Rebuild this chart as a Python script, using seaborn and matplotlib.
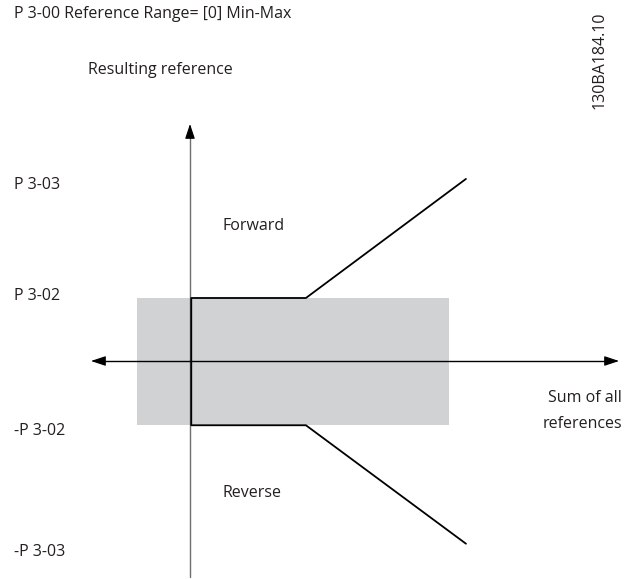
import matplotlib
matplotlib.use("Agg")
import matplotlib.pyplot as plt
import seaborn as sns
import pandas as pd

sns.set_style("white")
plt.rcParams['font.family'] = ['Open Sans', 'DejaVu Sans']

# Data (units: P 3-02 level = 1)
curve_upper_x = [0.02, 0.02, 1.84, 4.38]
curve_upper_y = [0.0, 1.0, 1.0, 2.89]
curve_lower_x = [0.02, 0.02, 1.84, 4.38]
curve_lower_y = [0.0, -1.02, -1.02, -2.9]
band_x = [-0.84, 4.11]
band_y = [-1.02, 1.0]
level_labels = ["P 3-03", "P 3-02", "-P 3-02", "-P 3-03"]
level_values = [2.79, 1.03, -1.11, -3.03]

PX = 63.0  # pixels per unit
W, H = 628, 579
ox, oy = 190.0, 361.0

fig = plt.figure(figsize=(W / 100, H / 100), dpi=100)
ax = fig.add_axes([0, 0, 1, 1])
ax.set_xlim(-ox / PX, (W - ox) / PX)
ax.set_ylim(-(H - oy) / PX, oy / PX)
ax.axis("off")

def px_x(p):
    return (p - ox) / PX

def px_y(p):
    return (oy - p) / PX

# grey band
ax.fill_between(band_x, band_y[0], band_y[1], color="#d1d2d4", lw=0, zorder=1)

# axes with arrows
ax.plot([0, 0], [px_y(577), px_y(132)], color="#6d6e70", lw=1.0, zorder=2)
ax.annotate("", xy=(0, px_y(124)), xytext=(0, px_y(134)),
            arrowprops=dict(arrowstyle="-|>,head_length=0.9,head_width=0.3", color="black", lw=0.8,
                            shrinkA=0, shrinkB=0), zorder=3)
ax.plot([px_x(98), px_x(612)], [0, 0], color="black", lw=1.0, zorder=2)
ax.annotate("", xy=(px_x(91), 0), xytext=(px_x(101), 0),
            arrowprops=dict(arrowstyle="-|>,head_length=0.9,head_width=0.3", color="black", lw=0.8,
                            shrinkA=0, shrinkB=0), zorder=3)
ax.annotate("", xy=(px_x(619), 0), xytext=(px_x(609), 0),
            arrowprops=dict(arrowstyle="-|>,head_length=0.9,head_width=0.3", color="black", lw=0.8,
                            shrinkA=0, shrinkB=0), zorder=3)

# curves
df_u = pd.DataFrame({"x": curve_upper_x, "y": curve_upper_y})
df_l = pd.DataFrame({"x": curve_lower_x, "y": curve_lower_y})
sns.lineplot(data=df_u, x="x", y="y", sort=False, estimator=None, color="black", lw=1.3, ax=ax, zorder=4)
sns.lineplot(data=df_l, x="x", y="y", sort=False, estimator=None, color="black", lw=1.3, ax=ax, zorder=4)
ax.axis("off")

fs = 11.5
tc = "#231f20"
for lab, v in zip(level_labels, level_values):
    ax.text(px_x(14), v, lab, fontsize=fs, ha="left", va="center", color=tc)

ax.text(px_x(14), px_y(14), "P 3-00 Reference Range= [0] Min-Max", fontsize=fs,
        ha="left", va="center", color=tc)
ax.text(px_x(88), px_y(70), "Resulting reference", fontsize=fs, ha="left", va="center", color=tc)
ax.text(px_x(222), px_y(226), "Forward", fontsize=fs, ha="left", va="center", color=tc)
ax.text(px_x(222), px_y(493), "Reverse", fontsize=fs, ha="left", va="center", color=tc)
ax.text(px_x(622), px_y(398), "Sum of all", fontsize=fs, ha="right", va="center", color=tc)
ax.text(px_x(622), px_y(424), "references", fontsize=fs, ha="right", va="center", color=tc)
ax.text(px_x(600), px_y(60), "130BA184.10", fontsize=11.5, rotation=90, ha="center", va="center",
        color=tc)

fig.savefig("out.png", dpi=100)
